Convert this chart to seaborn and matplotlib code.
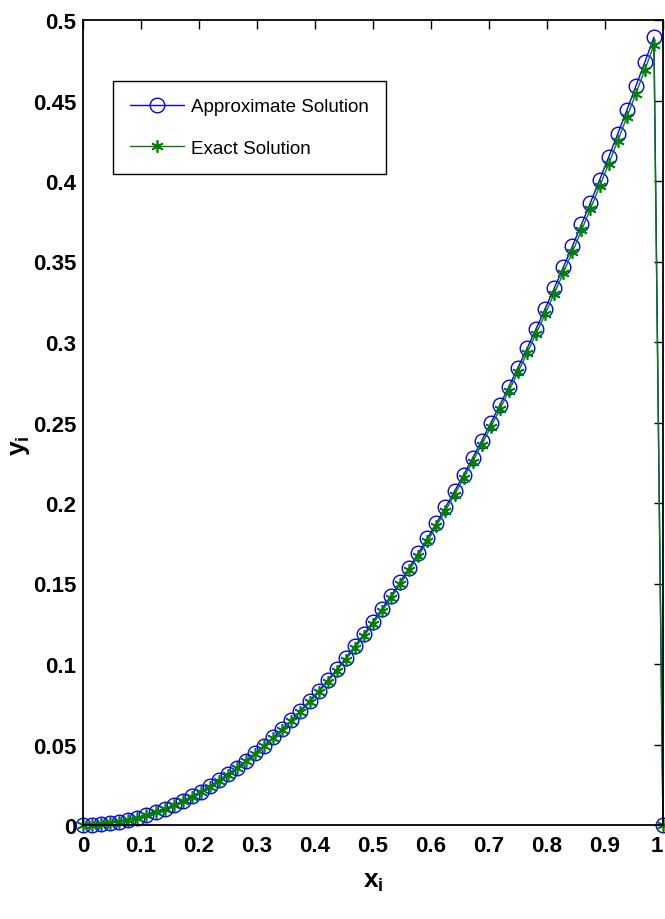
import matplotlib
matplotlib.use("Agg")
import matplotlib.pyplot as plt
import seaborn as sns
import pandas as pd

x_i = [0.0000, 0.0156, 0.0313, 0.0469, 0.0625, 0.0781, 0.0938, 0.1094, 0.1250,
       0.1406, 0.1563, 0.1719, 0.1875, 0.2031, 0.2188, 0.2344, 0.2500, 0.2656,
       0.2813, 0.2969, 0.3125, 0.3281, 0.3438, 0.3594, 0.3750, 0.3906, 0.4063,
       0.4219, 0.4375, 0.4531, 0.4688, 0.4844, 0.5000, 0.5156, 0.5313, 0.5469,
       0.5625, 0.5781, 0.5938, 0.6094, 0.6250, 0.6406, 0.6563, 0.6719, 0.6875,
       0.7031, 0.7188, 0.7344, 0.7500, 0.7656, 0.7813, 0.7969, 0.8125, 0.8281,
       0.8438, 0.8594, 0.8750, 0.8906, 0.9063, 0.9219, 0.9375, 0.9531, 0.9688,
       0.9844, 1.0000]

approx_y = [0.0000, 0.0001, 0.0005, 0.0011, 0.0020, 0.0031, 0.0044, 0.0060, 0.0079,
            0.0100, 0.0123, 0.0149, 0.0178, 0.0208, 0.0242, 0.0277, 0.0316, 0.0356,
            0.0399, 0.0445, 0.0493, 0.0544, 0.0597, 0.0652, 0.0710, 0.0771, 0.0833,
            0.0899, 0.0967, 0.1037, 0.1110, 0.1185, 0.1263, 0.1343, 0.1425, 0.1510,
            0.1598, 0.1688, 0.1780, 0.1875, 0.1973, 0.2073, 0.2175, 0.2280, 0.2387,
            0.2497, 0.2609, 0.2723, 0.2841, 0.2960, 0.3082, 0.3207, 0.3334, 0.3463,
            0.3595, 0.3730, 0.3866, 0.4006, 0.4148, 0.4292, 0.4438, 0.4588, 0.4739,
            0.4893, 0.0000]

exact_y = [0.0000, 0.0001, 0.0005, 0.0011, 0.0020, 0.0031, 0.0044, 0.0060, 0.0078,
           0.0099, 0.0122, 0.0148, 0.0176, 0.0206, 0.0239, 0.0275, 0.0313, 0.0353,
           0.0396, 0.0441, 0.0488, 0.0538, 0.0591, 0.0646, 0.0703, 0.0763, 0.0825,
           0.0890, 0.0957, 0.1027, 0.1099, 0.1173, 0.1250, 0.1329, 0.1411, 0.1495,
           0.1582, 0.1671, 0.1763, 0.1857, 0.1953, 0.2052, 0.2153, 0.2257, 0.2363,
           0.2472, 0.2583, 0.2697, 0.2813, 0.2931, 0.3052, 0.3175, 0.3301, 0.3429,
           0.3560, 0.3693, 0.3828, 0.3966, 0.4106, 0.4249, 0.4395, 0.4542, 0.4692,
           0.4845, 0.0000]

x_ticks = [0, 0.1, 0.2, 0.3, 0.4, 0.5, 0.6, 0.7, 0.8, 0.9, 1]
x_ticklabels = ["0", "0.1", "0.2", "0.3", "0.4", "0.5", "0.6", "0.7", "0.8", "0.9", "1"]
y_ticks = [0, 0.05, 0.1, 0.15, 0.2, 0.25, 0.3, 0.35, 0.4, 0.45, 0.5]
y_ticklabels = ["0", "0.05", "0.1", "0.15", "0.2", "0.25", "0.3", "0.35", "0.4", "0.45", "0.5"]

sns.set_style("white")
FONT = ["Liberation Sans", "DejaVu Sans"]
plt.rcParams["font.family"] = FONT
plt.rcParams["mathtext.fontset"] = "custom"
plt.rcParams["mathtext.bf"] = "Liberation Sans:bold"
plt.rcParams["mathtext.rm"] = "Liberation Sans"
for k in ["text.color", "axes.labelcolor", "xtick.color", "ytick.color"]:
    plt.rcParams[k] = "black"

df = pd.DataFrame({"x": x_i, "approx": approx_y, "exact": exact_y})

fig = plt.figure(figsize=(6.65, 9.2), dpi=100)
ax = fig.add_axes([83 / 665, 1 - 826 / 920, (663 - 83) / 665, (826 - 21) / 920])

sns.lineplot(data=df, x="x", y="approx", ax=ax, color="#0000FF", lw=1.0,
             marker="o", markersize=10.5, markerfacecolor="none",
             markeredgecolor="#0000FF", markeredgewidth=1.0,
             label="Approximate Solution", clip_on=False, sort=False)
sns.lineplot(data=df, x="x", y="exact", ax=ax, color="#008000", lw=1.0,
             marker=(6, 2, 0), markersize=9, markeredgecolor="#008000",
             markeredgewidth=1.2, label="Exact Solution", clip_on=False, sort=False)

ax.set_xlim(0, 1)
ax.set_ylim(0, 0.5)
ax.set_xticks(x_ticks)
ax.set_xticklabels(x_ticklabels)
ax.set_yticks(y_ticks)
ax.set_yticklabels(y_ticklabels)
for lab in ax.get_xticklabels() + ax.get_yticklabels():
    lab.set_fontweight("bold")
    lab.set_fontsize(16)
    lab.set_color("black")
ax.get_xticklabels()[-1].set_horizontalalignment("right")
ax.tick_params(direction="in", length=6.5, width=1.0, top=True, right=True,
               colors="black")
ax.tick_params(axis="x", pad=7)
ax.tick_params(axis="y", pad=5)
for s in ax.spines.values():
    s.set_color("black")
    s.set_linewidth(1.3)
    s.set_visible(True)

ax.set_xlabel(r"$\mathbf{x_i}$", fontsize=19)
ax.set_ylabel(r"$\mathbf{y_i}$", fontsize=19)
ax.xaxis.set_label_coords(0.5, -0.055)
ax.yaxis.set_label_coords(-0.088, 0.472)

leg = ax.legend(loc="upper left", bbox_to_anchor=(0.052, 0.924), borderaxespad=0,
                fontsize=13.5, frameon=True, fancybox=False, handlelength=2.9,
                handletextpad=0.35, borderpad=0.9, labelspacing=1.3)
leg.get_frame().set_edgecolor("black")
leg.get_frame().set_linewidth(1.0)
leg.get_frame().set_alpha(1)
for t in leg.get_texts():
    t.set_color("black")

fig.savefig("out.png", dpi=100)
